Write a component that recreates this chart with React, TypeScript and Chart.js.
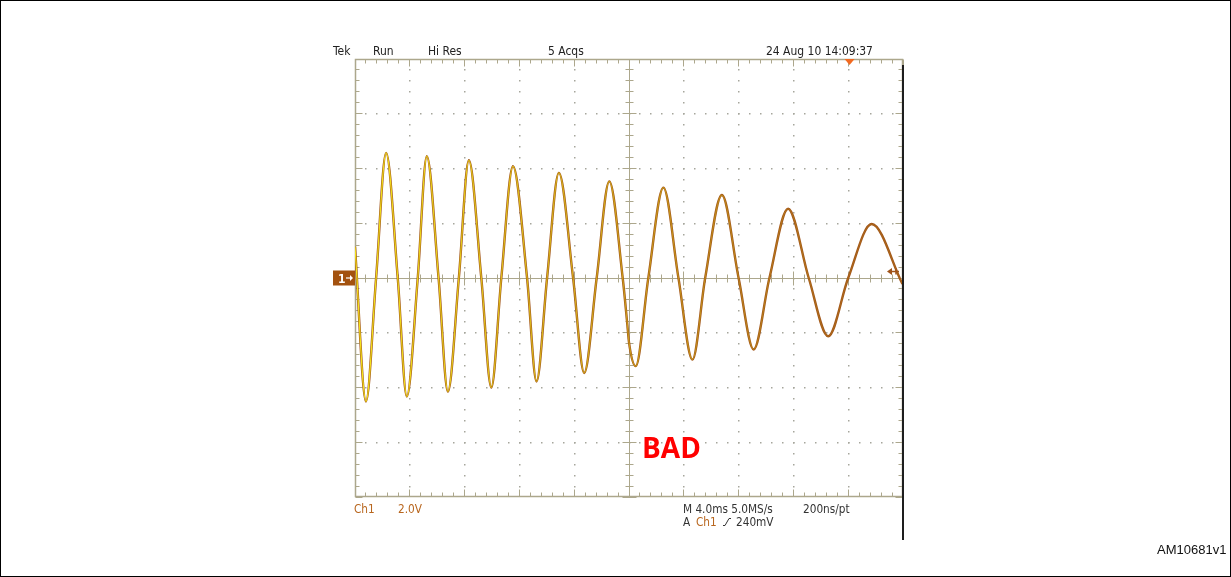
import { useEffect, useRef } from 'react';
import { Chart, registerables } from 'chart.js';

Chart.register(...registerables);

// ---- Data read from the oscilloscope capture (time in ms, Ch1 in volts) ----
const timeMs = [
  0.0, 0.8, 1.54, 2.27, 3.12, 3.78, 4.58, 5.24, 6.1, 6.78, 7.58, 8.31, 9.22, 9.95,
  10.68, 11.53, 12.56, 13.25, 14.02, 14.88, 15.92, 16.73, 17.64, 18.56, 19.54, 19.86,
  20.0, 20.49, 21.41, 22.51, 23.61, 24.63, 25.56, 26.78, 28.0, 29.1, 30.25, 31.61,
  33.12, 34.54, 36.0, 37.71, 39.96,
];
const ch1Volts = [
  1.14, -4.51, 0, 4.57, 0, -4.33, 0, 4.45, 0, -4.15, 0, 4.3, 0, -4.0,
  0, 4.08, 0, -3.78, 0, 3.84, 0, -3.47, 0, 3.53, 0, -1.6,
  -2.35, -3.22, 0, 3.3, 0, -2.98, 0, 3.03, 0, -2.61, 0, 2.53,
  0, -2.13, 0, 1.97, -0.22,
];

// Graticule divisions: 4.0 ms/div horizontally, 2.0 V/div vertically
const timeDivisionsMs = [0, 4, 8, 12, 16, 20, 24, 28, 32, 36, 40];
const voltDivisions = [-8, -6, -4, -2, 0, 2, 4, 6, 8];

const triggerLevelV = 0.24;
const triggerPosMs = 36.1;

const headerLabels = ['Tek', 'Run', 'Hi Res', '5 Acqs', '24 Aug 10 14:09:37'];
const footerLabels = ['Ch1', '2.0V', 'M 4.0ms 5.0MS/s', '200ns/pt', 'A', 'Ch1', '240mV'];
const annotationLabel = 'BAD';
const figureId = 'AM10681v1';

const points = timeMs.map((t, i) => ({ x: t, y: ch1Volts[i] }));

const NARROW = "'Liberation Sans Narrow', 'DejaVu Sans Condensed', 'Liberation Sans', sans-serif";
const GRID = '#aca78c';
const DOT = '#a6a69c';
const BROWN = '#a0541a';
const CH_TEXT = '#b8661e';

function subdivide(majors: number[], n: number) {
  const out: number[] = [];
  for (let i = 0; i < majors.length - 1; i++) {
    const a = majors[i];
    const b = majors[i + 1];
    for (let k = 0; k < n; k++) out.push(a + ((b - a) * k) / n);
  }
  out.push(majors[majors.length - 1]);
  return out;
}

const crisp = (p: number) => Math.floor(p) + 0.5;

function narrowText(ctx: CanvasRenderingContext2D, s: string, x: number, y: number, sx = 0.9) {
  ctx.save();
  ctx.translate(x, y);
  ctx.scale(sx, 1);
  ctx.fillText(s, 0, 0);
  ctx.restore();
}

const scopePlugin = {
  id: 'scopePlugin',
  beforeDatasetsDraw(chart: any) {
    const { ctx, chartArea: ca, scales } = chart;
    const xs = scales.x;
    const ys = scales.y;
    const xMaj = timeDivisionsMs;
    const yMaj = voltDivisions;
    const xMin = subdivide(xMaj, 5);
    const yMin = subdivide(yMaj, 5);
    const xMid = xMaj[Math.floor(xMaj.length / 2)];
    const yMid = yMaj[Math.floor(yMaj.length / 2)];
    const X = (v: number) => crisp(xs.getPixelForValue(v));
    const Y = (v: number) => crisp(ys.getPixelForValue(v));
    const L = crisp(ca.left);
    const R = crisp(ca.right - 1);
    const T = crisp(ca.top);
    const B = crisp(ca.bottom - 1);
    ctx.save();

    // dotted interior graticule
    ctx.fillStyle = DOT;
    xMaj.slice(1, -1).forEach((t) => {
      if (t === xMid) return;
      const px = X(t);
      yMin.forEach((v) => {
        if (v === yMaj[0] || v === yMaj[yMaj.length - 1]) return;
        ctx.fillRect(px - 0.5, Y(v) - 0.5, 1.5, 1.5);
      });
    });
    yMaj.slice(1, -1).forEach((v) => {
      if (v === yMid) return;
      const py = Y(v);
      xMin.forEach((t) => {
        if (t === xMaj[0] || t === xMaj[xMaj.length - 1]) return;
        ctx.fillRect(X(t) - 0.5, py - 0.5, 1.5, 1.5);
      });
    });

    ctx.strokeStyle = GRID;
    ctx.lineWidth = 1;
    ctx.beginPath();
    // centre cross
    ctx.moveTo(L, Y(yMid));
    ctx.lineTo(R, Y(yMid));
    ctx.moveTo(X(xMid), T);
    ctx.lineTo(X(xMid), B);
    // centre ticks
    xMin.forEach((t, i) => {
      const h = i % 5 === 0 ? 7 : 4;
      ctx.moveTo(X(t), Y(yMid) - h);
      ctx.lineTo(X(t), Y(yMid) + h);
    });
    yMin.forEach((v, i) => {
      const h = i % 5 === 0 ? 7 : 4;
      ctx.moveTo(X(xMid) - h, Y(v));
      ctx.lineTo(X(xMid) + h, Y(v));
    });
    // border ticks
    xMin.forEach((t, i) => {
      const h = i % 5 === 0 ? 7 : 4;
      ctx.moveTo(X(t), T);
      ctx.lineTo(X(t), T + h);
      ctx.moveTo(X(t), B);
      ctx.lineTo(X(t), B - h);
    });
    yMin.forEach((v, i) => {
      const h = i % 5 === 0 ? 7 : 4;
      ctx.moveTo(L, Y(v));
      ctx.lineTo(L + h, Y(v));
      ctx.moveTo(R, Y(v));
      ctx.lineTo(R - h, Y(v));
    });
    ctx.stroke();
    ctx.lineWidth = 1.5;
    ctx.strokeRect(L, T, R - L, B - T);
    ctx.restore();
  },
  afterDraw(chart: any) {
    const { ctx, chartArea: ca, scales } = chart;
    const xs = scales.x;
    const ys = scales.y;
    const L = ca.left;
    const R = ca.right;
    const T = ca.top;
    const B = ca.bottom;
    const zeroY = ys.getPixelForValue(0);
    ctx.save();

    // right black screenshot edge
    ctx.fillStyle = '#1e1e1e';
    ctx.fillRect(R - 1, T + 6, 2, B - T + 37);

    // header texts
    ctx.fillStyle = '#222';
    ctx.font = `13px ${NARROW}`;
    ctx.textBaseline = 'alphabetic';
    ctx.textAlign = 'left';
    const hx = [L - 22, L + 18, L + 73, L + 193, L + 411];
    headerLabels.forEach((s, i) => narrowText(ctx, s, hx[i], T - 4, 0.92));

    // trigger position marker
    const tx = xs.getPixelForValue(triggerPosMs);
    ctx.fillStyle = '#f26a21';
    ctx.beginPath();
    ctx.moveTo(tx - 5, T);
    ctx.lineTo(tx + 5, T);
    ctx.lineTo(tx, T + 6);
    ctx.closePath();
    ctx.fill();

    // channel 1 ground marker
    ctx.fillStyle = '#a3520f';
    ctx.fillRect(L - 22, zeroY - 7.5, 22, 15);
    ctx.fillStyle = '#ffffff';
    ctx.font = `bold 12px ${NARROW}`;
    ctx.fillText('1', L - 17, zeroY + 4.5);
    ctx.strokeStyle = '#ffffff';
    ctx.lineWidth = 1.2;
    ctx.beginPath();
    ctx.moveTo(L - 9, zeroY);
    ctx.lineTo(L - 3, zeroY);
    ctx.stroke();
    ctx.beginPath();
    ctx.moveTo(L - 2, zeroY);
    ctx.lineTo(L - 5, zeroY - 3);
    ctx.lineTo(L - 5, zeroY + 3);
    ctx.closePath();
    ctx.fill();

    // trigger level arrow
    const ty = ys.getPixelForValue(triggerLevelV);
    ctx.strokeStyle = BROWN;
    ctx.fillStyle = BROWN;
    ctx.lineWidth = 1.5;
    ctx.beginPath();
    ctx.moveTo(R - 14, ty);
    ctx.lineTo(R - 4, ty);
    ctx.moveTo(R - 7, ty - 3);
    ctx.lineTo(R - 7, ty + 3);
    ctx.stroke();
    ctx.beginPath();
    ctx.moveTo(R - 16, ty);
    ctx.lineTo(R - 11, ty - 3.5);
    ctx.lineTo(R - 11, ty + 3.5);
    ctx.closePath();
    ctx.fill();

    // footer texts
    ctx.font = `13px ${NARROW}`;
    const r1 = B + 16;
    const r2 = B + 29;
    ctx.fillStyle = CH_TEXT;
    narrowText(ctx, footerLabels[0], L - 1, r1);
    narrowText(ctx, footerLabels[1], L + 43, r1);
    ctx.fillStyle = '#333';
    narrowText(ctx, footerLabels[2], L + 328, r1);
    narrowText(ctx, footerLabels[3], L + 448, r1);
    narrowText(ctx, footerLabels[4], L + 328, r2);
    ctx.fillStyle = CH_TEXT;
    narrowText(ctx, footerLabels[5], L + 341, r2);
    ctx.fillStyle = '#333';
    narrowText(ctx, footerLabels[6], L + 381, r2);
    ctx.strokeStyle = '#333';
    ctx.lineWidth = 1;
    ctx.beginPath();
    ctx.moveTo(L + 368, r2 - 0.5);
    ctx.lineTo(L + 370, r2 - 0.5);
    ctx.lineTo(L + 374, r2 - 7.5);
    ctx.lineTo(L + 376, r2 - 7.5);
    ctx.stroke();

    // annotation
    ctx.fillStyle = '#ff0000';
    ctx.font = "bold 28px 'Open Sans', 'Liberation Sans', sans-serif";
    ctx.fillText(annotationLabel, L + 287, B - 39);

    // figure id
    ctx.fillStyle = '#111';
    ctx.font = "13px 'Liberation Sans', Arial, sans-serif";
    ctx.fillText(figureId, 1157, 554);

    // outer frame
    ctx.strokeStyle = '#000';
    ctx.lineWidth = 1;
    ctx.strokeRect(0.5, 0.5, chart.width - 1, chart.height - 1);
    ctx.restore();
  },
};

export default function App() {
  const ref = useRef<HTMLCanvasElement>(null);
  useEffect(() => {
    if (!ref.current) return;
    const chart = new Chart(ref.current, {
      type: 'line',
      data: {
        datasets: [
          {
            label: 'Ch1 trace',
            data: points,
            borderColor: 'rgba(245,228,25,1)',
            borderWidth: 1.2,
            pointRadius: 0,
            cubicInterpolationMode: 'monotone',
            order: 1,
            segment: {
              borderColor: (c: any) => {
                const t = c.p0.parsed.x;
                const a = Math.max(0.12, 1 - (t / 40) * 1.0);
                return `rgba(245,228,25,${a})`;
              },
            },
          },
          {
            label: 'Ch1 envelope',
            data: points,
            borderColor: BROWN,
            borderWidth: 2.4,
            pointRadius: 0,
            cubicInterpolationMode: 'monotone',
            order: 2,
          },
        ],
      },
      options: {
        animation: false,
        responsive: false,
        maintainAspectRatio: false,
        events: [],
        layout: { padding: { left: 355, right: 328, top: 59, bottom: 80 } },
        scales: {
          x: { type: 'linear', min: 0, max: 40, display: false },
          y: { type: 'linear', min: -8, max: 8, display: false },
        },
        plugins: {
          legend: { display: false },
          tooltip: { enabled: false },
        },
      },
      plugins: [scopePlugin],
    } as any);
    return () => chart.destroy();
  }, []);
  return (
    <div style={{ position: 'absolute', left: 0, top: 0, width: 1231, height: 577, background: '#fff' }}>
      <canvas ref={ref} width={1231} height={577} style={{ display: 'block', width: 1231, height: 577 }} />
    </div>
  );
}
